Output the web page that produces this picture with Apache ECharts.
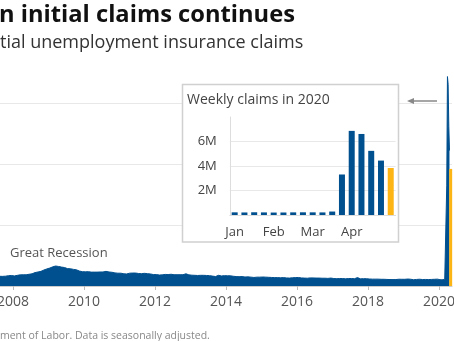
<!DOCTYPE html>
<html><head><meta charset="utf-8">
<script src="https://cdn.jsdelivr.net/npm/echarts@6/dist/echarts.min.js"></script>
<style>html,body{margin:0;padding:0;background:#fff}#c{width:454px;height:341px}</style>
</head><body><div id="c"></div>
<script>
// Main chart: monthly average weekly initial claims, Jul 2007 - Dec 2019 (thousands)
const monthlyStart = [2007, 7];
const monthlyClaimsK = [
  307, 318, 316, 322, 338, 345,
  330, 350, 365, 368, 368, 385, 400, 440, 460, 480, 525, 560,
  590, 630, 655, 640, 620, 605, 570, 565, 545, 530, 490, 470,
  465, 470, 455, 455, 455, 460, 460, 480, 460, 450, 430, 420,
  420, 400, 395, 420, 425, 425, 410, 405, 415, 405, 395, 375,
  375, 360, 365, 380, 375, 385, 370, 370, 370, 370, 400, 365,
  355, 350, 345, 350, 350, 345, 340, 325, 310, 350, 330, 340,
  335, 335, 320, 310, 305, 310, 295, 300, 290, 280, 290, 290,
  295, 290, 285, 280, 275, 275, 270, 275, 265, 260, 270, 275,
  280, 265, 260, 255, 265, 265, 260, 260, 255, 255, 250, 260,
  245, 240, 245, 245, 235, 245, 245, 240, 275, 235, 240, 240,
  230, 225, 225, 225, 220, 220, 215, 212, 210, 212, 222, 220,
  220, 228, 222, 205, 215, 222, 212, 215, 212, 215, 220, 225
];
// Weekly claims in 2020 (week ending)
const weeks2020 = ['2020-01-04','2020-01-11','2020-01-18','2020-01-25','2020-02-01','2020-02-08','2020-02-15','2020-02-22','2020-02-29','2020-03-07','2020-03-14','2020-03-21','2020-03-28','2020-04-04','2020-04-11','2020-04-18','2020-04-25'];
const weeklyClaims2020 = [217000, 207000, 223000, 212000, 201000, 205000, 215000, 220000, 217000, 211000, 282000, 3307000, 6867000, 6615000, 5237000, 4442000, 3839000];
const yearTicks = [2008, 2010, 2012, 2014, 2016, 2018, 2020];
const insetMonthLabels = {0: 'Jan', 4: 'Feb', 8: 'Mar', 12: 'Apr'};

const BLUE = '#00508f', YELLOW = '#fdb515';

// date (y, m 1-based, d) -> decimal year
function decYear(y, m, d) {
  const t0 = Date.UTC(y, 0, 1), t1 = Date.UTC(y + 1, 0, 1);
  return y + (Date.UTC(y, m - 1, d) - t0) / (t1 - t0);
}
function decYearStr(s) { const p = s.split('-').map(Number); return decYear(p[0], p[1], p[2]); }

const mainData = monthlyClaimsK.map((v, i) => {
  const m = monthlyStart[1] - 1 + i;
  const y = monthlyStart[0] + Math.floor(m / 12);
  return [decYear(y, m % 12 + 1, 15), v * 1000];
});
const lastIdx = weeks2020.length - 1;
weeks2020.slice(0, lastIdx).forEach((d, i) => mainData.push([decYearStr(d), weeklyClaims2020[i]]));
const latestWeek = [[decYearStr(weeks2020[lastIdx]), weeklyClaims2020[lastIdx]]];

const FONT = '"Open Sans"';

const chart = echarts.init(document.getElementById('c'));
chart.setOption({
  animation: false,
  textStyle: {fontFamily: FONT},
  grid: [
    {left: 0, right: 2, top: 72.5, bottom: 55, outerBoundsMode: 'none', containLabel: false},
    {left: 229.8, right: 58.4, top: 117, bottom: 126, outerBoundsMode: 'none', containLabel: false}
  ],
  xAxis: [
    {
      type: 'value', gridIndex: 0,
      min: decYear(2007, 8, 20), max: decYear(2020, 5, 14),
      axisLine: {show: true, lineStyle: {color: '#cccccc'}},
      axisTick: {show: true, customValues: yearTicks, length: 4, lineStyle: {color: '#bbbbbb'}},
      axisLabel: {customValues: yearTicks, formatter: v => String(Math.round(v)), hideOverlap: false,
        color: '#555', fontSize: 14, margin: 9, fontFamily: FONT},
      splitLine: {show: false}
    },
    {
      type: 'category', gridIndex: 1, data: weeks2020, z: 3,
      axisLine: {show: true, lineStyle: {color: '#dddddd'}},
      axisTick: {show: false},
      axisLabel: {interval: 0, formatter: (v, i) => insetMonthLabels[i] || '',
        color: '#444', fontSize: 13, margin: 11, fontFamily: FONT},
      splitLine: {show: false}
    }
  ],
  yAxis: [
    {
      type: 'value', gridIndex: 0, min: 0, max: 7000000, interval: 2000000, position: 'right',
      axisLine: {show: false}, axisTick: {show: false}, axisLabel: {show: false},
      splitLine: {show: true, showMaxLine: false, lineStyle: {color: '#e8e8e8', width: 1}}
    },
    {
      type: 'value', gridIndex: 1, min: 0, max: 8000000, interval: 2000000, z: 3,
      axisLine: {show: true, lineStyle: {color: '#dddddd'}}, axisTick: {show: false},
      axisLabel: {showMinLabel: false, showMaxLabel: false, formatter: v => (v / 1e6) + 'M',
        color: '#444', fontSize: 13, margin: 13, fontFamily: FONT},
      splitLine: {show: true, showMaxLine: false, lineStyle: {color: '#e8e8e8', width: 1}}
    }
  ],
  series: [
    {
      type: 'line', xAxisIndex: 0, yAxisIndex: 0, data: mainData, symbol: 'none',
      lineStyle: {color: BLUE, width: 1}, areaStyle: {color: BLUE, opacity: 1}, z: 2
    },
    {
      type: 'custom', xAxisIndex: 0, yAxisIndex: 0, data: latestWeek, z: 3,
      renderItem: (params, api) => {
        const top = api.coord([api.value(0), api.value(1)]);
        const base = api.coord([api.value(0), 0]);
        return {type: 'rect', shape: {x: top[0] - 1, y: top[1], width: 3, height: base[1] - top[1]},
          style: {fill: YELLOW}};
      }
    },
    {
      type: 'bar', xAxisIndex: 1, yAxisIndex: 1, barWidth: 6, z: 4,
      data: weeklyClaims2020.map((v, i) => ({value: v, itemStyle: {color: i === lastIdx ? YELLOW : BLUE}}))
    }
  ],
  graphic: [
    {type: 'text', left: -1, top: 3, z: 10, style: {text: 'n initial claims continues', font: 'bold 23.7px ' + FONT, fill: '#111'}},
    {type: 'text', left: 0, top: 34, z: 10, style: {text: 'tial unemployment insurance claims', font: '18px ' + FONT, fill: '#333'}},
    {type: 'rect', z: 2, shape: {x: 182.5, y: 84.5, width: 216, height: 157.5},
      style: {fill: '#ffffff', stroke: '#d0d0d0', lineWidth: 1.5}},
    {type: 'text', left: 187, top: 93, z: 10, style: {text: 'Weekly claims in 2020', font: '14px ' + FONT, fill: '#444'}},
    {type: 'line', z: 10, shape: {x1: 411, y1: 101, x2: 437, y2: 101}, style: {stroke: '#888', lineWidth: 1.5}},
    {type: 'polygon', z: 10, shape: {points: [[407, 101], [414, 98], [414, 104]]}, style: {fill: '#888'}},
    {type: 'text', left: 10, top: 247, z: 10, style: {text: 'Great Recession', font: '13px ' + FONT, fill: '#555'}},
    {type: 'text', left: 0, top: 331, z: 10, style: {text: 'ment of Labor. Data is seasonally adjusted.', font: '10.5px ' + FONT, fill: '#888'}}
  ]
});
</script></body></html>
